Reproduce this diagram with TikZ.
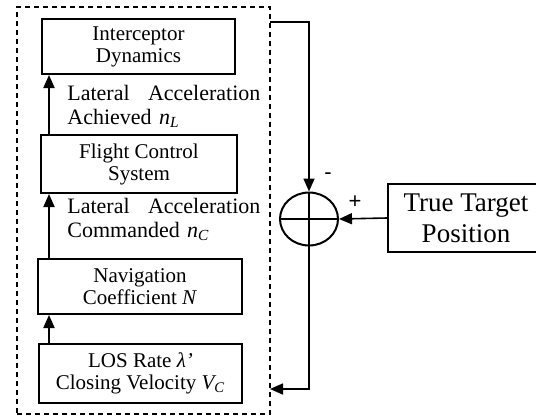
\documentclass[tikz,border=0pt]{standalone}
\usepackage{fontspec}
\setmainfont{Liberation Serif}
\newfontfamily\signfont{Liberation Sans}
\usetikzlibrary{arrows.meta,shapes.geometric}

\tikzset{
  blockbox/.style={draw,line width=1pt,align=center,inner sep=0pt,
    font=\fontsize{10.5}{11}\selectfont},
  sigline/.style={line width=0.8pt},
  sigarrow/.style={sigline,-{Triangle[length=6.5pt,width=5.5pt]}},
  sumnode/.style={draw,ellipse,line width=1pt,inner sep=0pt,
    minimum width=29pt,minimum height=26.5pt},
  sidelabel/.style={anchor=north west,inner sep=0pt,text width=96.5pt,
    font=\fontsize{11}{12}\selectfont}
}

\begin{document}
\begin{tikzpicture}[x=0.5pt,y=-0.5pt]
\useasboundingbox (0,0) rectangle (536,418);
\clip (0,0) rectangle (536,418);

\coordinate (spine) at (49,0);
\coordinate (outtop) at (270,22);
\coordinate (backin) at (270,389);

% Draw dashed guidance box
\node[draw,dash pattern=on 2.5pt off 2pt,line width=0.75pt,
  minimum width=126.5pt,minimum height=203.5pt,inner sep=0pt] (grp) at (143.5,210.5) {};

% Draw blocks
\node[blockbox,minimum width=96.5pt,minimum height=27.5pt] (dyn) at (138.5,46.5)
    {Interceptor\\Dynamics};
\node[blockbox,minimum width=98pt,minimum height=29pt] (fcs) at (139,164)
    {Flight Control\\System};
\node[blockbox,minimum width=102pt,minimum height=27.5pt] (nav) at (140,286.5)
    {Navigation\\Coefficient \textit{N}};
\node[blockbox,minimum width=101.5pt,minimum height=29.5pt] (los) at (140.5,373.5)
    {LOS Rate \textit{λ’}\\Closing Velocity \textit{V\textsubscript{C}}};

% Draw arrows between blocks
\draw[sigarrow,line width=1pt] (spine |- fcs.north) -- (spine |- dyn.south);
\draw[sigarrow,line width=1pt] (spine |- nav.north) -- (spine |- fcs.south);
\draw[sigarrow,line width=1pt] (spine |- los.north) -- (spine |- nav.south);

\node[sidelabel] (achieved) at (67,85)
    {Lateral\hfill Acceleration\\Achieved \textit{n\textsubscript{L}}};
\node[sidelabel] (commanded) at (67,198)
    {Lateral\hfill Acceleration\\Commanded \textit{n\textsubscript{C}}};

% Draw summing junction
\node[sumnode] (sum) at (309,219) {};
\draw[line width=1pt] (sum.west) -- (sum.east);
\draw[line width=1pt] (sum.north) -- (sum.south);
\node[font=\signfont\fontsize{11}{11}\selectfont] (minus) at (328,176) {-};
\node[font=\signfont\fontsize{11}{11}\selectfont] (plus) at (355,202) {+};

\node[blockbox,font=\fontsize{13.5}{15.5}\selectfont,
  minimum width=78pt,minimum height=34pt] (ttp) at (466,218)
    {True Target\\Position};

% Draw loop
\draw[sigarrow] (outtop) -| (sum.north);
\draw[sigarrow] (ttp.west) -- (sum.east);
\draw[sigarrow] (sum.south) |- (backin);
\end{tikzpicture}
\end{document}
